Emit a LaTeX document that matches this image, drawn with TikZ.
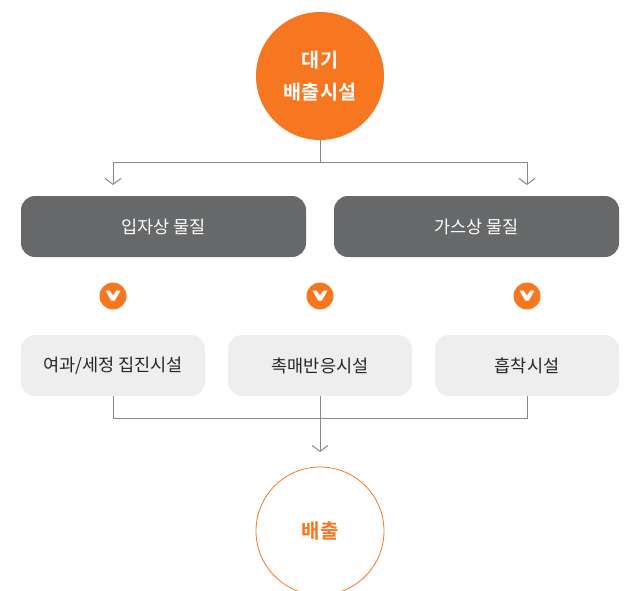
\documentclass[tikz,border=0pt]{standalone}
\usepackage{fontspec}
\setmainfont{Noto Sans CJK KR}
\newfontfamily\krbold{Noto Sans CJK KR Bold}
\usetikzlibrary{arrows.meta,calc}
\definecolor{orangeA}{HTML}{F77620}
\definecolor{darkbox}{HTML}{676869}
\definecolor{lightbox}{HTML}{EEEEEE}
\definecolor{linegray}{HTML}{888888}
\tikzset{
  x=1pt,y=-1pt,
  solidcircle/.style={circle,fill=orangeA,minimum size=128pt,inner sep=0pt,text=white,font=\krbold\fontsize{19.6}{32}\selectfont,align=center},
  outlinecircle/.style={circle,draw=orangeA,line width=0.8pt,fill=white,minimum size=128pt,inner sep=0pt,text=orangeA,font=\krbold\fontsize{20}{24}\selectfont},
  darkbar/.style={rectangle,rounded corners=14pt,fill=darkbox,text=white,minimum width=285pt,minimum height=61pt,inner sep=0pt,font=\fontsize{17.5}{20}\selectfont},
  lightbar/.style={rectangle,rounded corners=14pt,fill=lightbox,text=black!85,minimum width=184pt,minimum height=61pt,inner sep=0pt,font=\fontsize{17.5}{20}\selectfont},
  badge/.style={circle,fill=orangeA,minimum size=27pt,inner sep=0pt},
  chev/.style={fill=white,draw=none},
  conn/.style={draw=linegray,line width=1pt},
  connarrow/.style={conn,-{Straight Barb[length=6pt,width=16pt,line width=1pt]}},
}
\begin{document}
\begin{tikzpicture}
\useasboundingbox (0,0) rectangle (628,590);
\node[solidcircle] (top) at (320,76) {\raisebox{-2pt}{대기}\\\raisebox{-2pt}{배출시설}};
\node[darkbar] (dustbar) at (163.5,226.5) {\raisebox{-1pt}{입자상 물질}};
\node[darkbar] (gasbar) at (476.5,226.5) {\raisebox{-1pt}{가스상 물질}};
\node[badge] (b1) at (113,296) {};
\node[badge] (b2) at (320,296) {};
\node[badge] (b3) at (527,296) {};
\node[lightbar] (f1) at (113,365.5) {\raisebox{-1pt}{여과/세정 집진시설}};
\node[lightbar] (f2) at (320,365.5) {\raisebox{-1pt}{촉매반응시설}};
\node[lightbar] (f3) at (527,365.5) {\raisebox{-1pt}{흡착시설}};
\begin{scope}
\clip (0,0) rectangle (628,590);
\node[outlinecircle] (out) at (320,531) {\raisebox{-1pt}{배출}};
\end{scope}
\foreach \b in {b1,b2,b3}{
  \fill[chev] ($(\b)+(-7.5,-5.5)$) -- ($(\b)+(-3.4,-5.5)$) -- ($(\b)+(0,-0.6)$) -- ($(\b)+(3.4,-5.5)$) -- ($(\b)+(7.5,-5.5)$) -- ($(\b)+(1.8,4.5)$) -- ($(\b)+(-1.8,4.5)$) -- cycle;
}
\coordinate (hubtop) at (320,162);
\coordinate (endL) at (113,185);
\coordinate (endR) at (527,185);
\coordinate (hubbot) at (320,418);
\coordinate (endB) at (320,452);
\draw[conn] (top.south) -- (hubtop);
\draw[connarrow] (hubtop) -| (endL);
\draw[connarrow] (hubtop) -| (endR);
\draw[conn] (f1.south) |- (hubbot);
\draw[conn] (f3.south) |- (hubbot);
\draw[connarrow] (f2.south) -- (endB);
\end{tikzpicture}
\end{document}
